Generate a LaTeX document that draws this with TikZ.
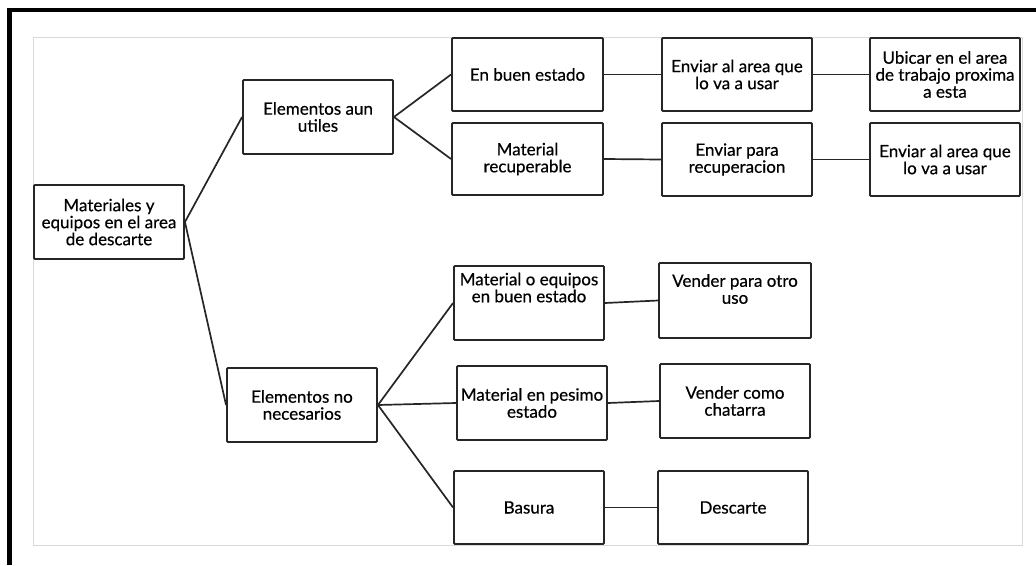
\documentclass[tikz,border=0pt]{standalone}
\usepackage{fontspec}
\setmainfont{Lato}
\newfontfamily\boxfont{Lato}[FakeBold=0.5]
\begin{document}
\begin{tikzpicture}[x=1pt,y=-1pt,
  box/.style={draw=black!85, line width=1.9pt, rounded corners=1pt, fill=white,
    minimum width=150pt, minimum height=74pt, inner sep=0pt, align=center,
    font=\boxfont\fontsize{17}{17}\selectfont, text=black},
  link/.style={draw=black!85, line width=1.7pt}]
  \useasboundingbox (0,0) rectangle (1036,565);
  % page frame
  \fill[white] (0,0) rectangle (1036,565);
  \draw[line width=4.5pt, black] (9.5,565) -- (9.5,10) -- (1036,10);
  \draw[line width=1pt, black!15] (33,37) rectangle (1022,545);

  % nodes
  \node[box] (root) at (109,222) {Materiales y\\equipos en el area\\de descarte};
  \node[box] (util) at (318,117) {Elementos aun\\utiles};
  \node[box, minimum width=151pt, minimum height=73pt] (buen) at (527.5,74.5) {En buen estado};
  \node[box, minimum width=151pt, minimum height=72pt] (recu) at (527.5,159) {Material\\recuperable};
  \node[box, minimum height=73pt] (envA) at (737,74.5) {Enviar al area que\\lo va a usar};
  \node[box, minimum height=73pt] (ubic) at (945,74.5) {Ubicar en el area\\de trabajo proxima\\a esta};
  \node[box, minimum height=73pt] (envR) at (737,159.5) {Enviar para\\recuperacion};
  \node[box, minimum height=73pt] (envB) at (945,159.5) {Enviar al area que\\lo va a usar};

  \node[box] (nnec) at (302,405) {Elementos no\\necesarios};
  \node[box] (mteq) at (529,303) {Material o equipos\\en buen estado\\[14pt]};
  \node[box] (pesi) at (532,403) {Material en pesimo\\estado};
  \node[box, minimum height=73pt] (basu) at (529,507.5) {Basura};
  \node[box, minimum width=152pt, minimum height=75pt] (vend) at (735,300.5) {Vender para otro\\uso\\[6pt]};
  \node[box] (chat) at (735,401) {Vender como\\chatarra};
  \node[box, minimum height=73pt] (desc) at (733,507.5) {Descarte};

  % connectors
  \draw[link] (root.east) -- (util.west);
  \draw[link] (root.east) -- (nnec.west);
  \draw[link] (util.east) -- (buen.west);
  \draw[link] (util.east) -- (recu.west);
  \draw[link] (buen.east) -- (envA.west);
  \draw[link] (envA.east) -- (ubic.west);
  \draw[link] (recu.east) -- (envR.west);
  \draw[link] (envR.east) -- (envB.west);
  \draw[link] (nnec.east) -- (mteq.west);
  \draw[link] (nnec.east) -- (pesi.west);
  \draw[link] (nnec.east) -- (basu.west);
  \draw[link] (mteq.east) -- (vend.west);
  \draw[link] (pesi.east) -- (chat.west);
  \draw[link] (basu.east) -- (desc.west);
\end{tikzpicture}
\end{document}
